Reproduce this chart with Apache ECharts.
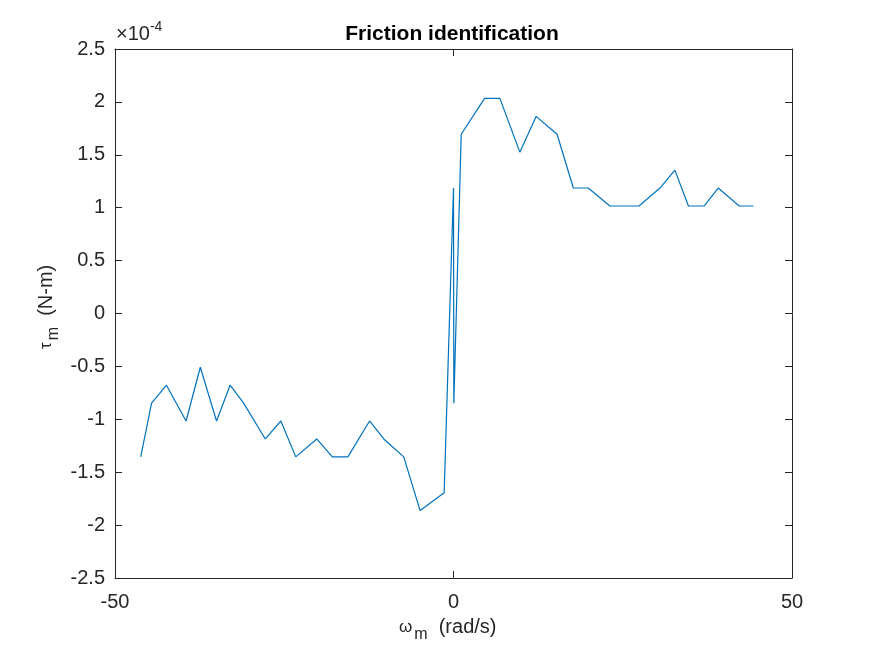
<!DOCTYPE html>
<html>
<head>
<meta charset="utf-8">
<script src="https://cdn.jsdelivr.net/npm/echarts@6/dist/echarts.min.js"></script>
<style>
html,body{margin:0;padding:0;background:#fff;}
#chart{width:875px;height:656px;}
</style>
</head>
<body>
<div id="chart"></div>
<script>
// Data (tau in units of 1e-4 N-m)
var omega = [-46.2,-44.6,-42.4,-39.5,-37.4,-35.0,-33.0,-31.0,-27.8,-25.5,-23.3,-20.2,-17.9,-15.6,-12.4,-10.3,-7.35,-4.93,-1.38,0.0,0.05,1.14,4.59,6.85,9.8,12.2,15.3,17.7,19.9,23.1,27.4,30.5,32.7,34.7,37.0,39.1,42.2,44.3];
var tau = [-1.355,-0.847,-0.678,-1.016,-0.508,-1.016,-0.678,-0.847,-1.186,-1.016,-1.355,-1.186,-1.355,-1.355,-1.016,-1.186,-1.355,-1.863,-1.694,1.186,-0.847,1.694,2.033,2.033,1.525,1.863,1.694,1.186,1.186,1.016,1.016,1.186,1.355,1.016,1.016,1.186,1.016,1.016];
var xTicks = [-50, 0, 50];
var yTicks = [-2.5,-2,-1.5,-1,-0.5,0,0.5,1,1.5,2,2.5];
var titleText = 'Friction identification';

var pts = omega.map(function(x, i){ return [x, tau[i]]; });
var font = 'Liberation Sans, Arial, Helvetica, sans-serif';
var axisCol = '#262626';

var chart = echarts.init(document.getElementById('chart'));
function axisLine(){ return {show: true, onZero: false, lineStyle: {color: axisCol, width: 1}}; }
function ticks(){ return {show: true, inside: true, length: 7, lineStyle: {color: axisCol}}; }
var option = {
  backgroundColor: '#ffffff',
  animation: false,
  title: {
    text: titleText, left: 447, top: 19, textAlign: 'center',
    textStyle: {fontFamily: font, fontWeight: 'bold', fontSize: 21, color: '#000'}
  },
  grid: {left: 115, right: 83, top: 49, bottom: 78, show: false},
  xAxis: [{
    type: 'value', min: -50, max: 50, interval: 50, position: 'bottom',
    axisLine: axisLine(), axisTick: ticks(),
    axisLabel: {fontFamily: font, fontSize: 20, color: axisCol, margin: 14},
    splitLine: {show: false}
  }, {
    type: 'value', min: -50, max: 50, interval: 50, position: 'top',
    axisLine: axisLine(), axisTick: ticks(),
    axisLabel: {show: false}, splitLine: {show: false}
  }],
  yAxis: [{
    type: 'value', min: -2.5, max: 2.5, interval: 0.5, position: 'left',
    axisLine: axisLine(), axisTick: ticks(),
    axisLabel: {fontFamily: font, fontSize: 20, color: axisCol, margin: 10,
      formatter: function(v){ return String(Math.round(v*10)/10); }},
    splitLine: {show: false}
  }, {
    type: 'value', min: -2.5, max: 2.5, interval: 0.5, position: 'right',
    axisLine: axisLine(), axisTick: ticks(),
    axisLabel: {show: false}, splitLine: {show: false}
  }],
  graphic: [{
    type: 'text', left: 116, top: 20,
    style: {
      rich: {
        a: {fontFamily: font, fontSize: 20, fill: axisCol, padding: [7,0,0,0]},
        b: {fontFamily: font, fontSize: 14, fill: axisCol, padding: [0,0,7,0]}
      },
      text: '{a|\u00d710}{b|-4}'
    }
  }, {
    type: 'text', left: 399, top: 617,
    style: {
      rich: {
        w: {fontFamily: font, fontSize: 17, fill: axisCol},
        s: {fontFamily: font, fontSize: 16, fill: axisCol, padding: [16,0,0,2]},
        r: {fontFamily: font, fontSize: 20, fill: axisCol}
      },
      text: '{w|\u03c9}{s|m}{r|  (rad/s)}'
    }
  }, {
    type: 'text', x: 30, y: 349, rotation: Math.PI/2,
    style: {
      rich: {
        w: {fontFamily: font, fontSize: 17, fill: axisCol},
        s: {fontFamily: font, fontSize: 16, fill: axisCol, padding: [16,0,0,2]},
        r: {fontFamily: font, fontSize: 20, fill: axisCol}
      },
      text: '{w|\u03c4}{s|m}{r|  (N-m)}'
    }
  }],
  series: [{
    type: 'line', data: pts, xAxisIndex: 0, yAxisIndex: 0,
    showSymbol: false, symbol: 'none',
    lineStyle: {color: '#0072BD', width: 1.2},
    clip: false
  }]
};
chart.setOption(option);
</script>
</body>
</html>
